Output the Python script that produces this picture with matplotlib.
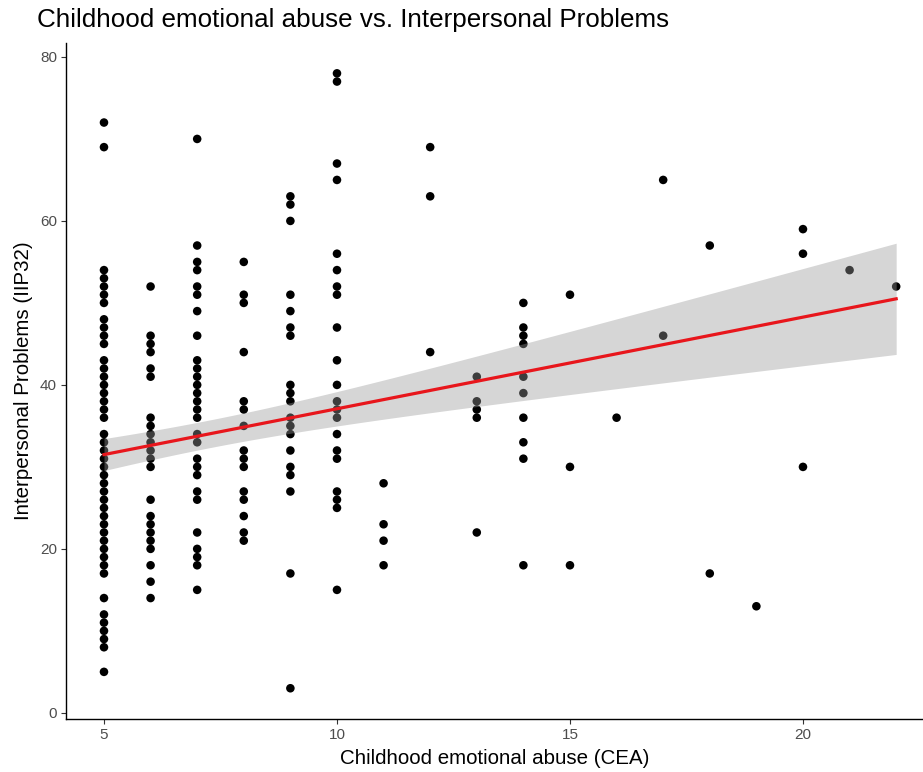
import numpy as np
import matplotlib.pyplot as plt

plt.rcParams['font.family'] = ['Liberation Sans', 'DejaVu Sans']

# IIP32 scores observed at each CEA level
iip_cea5 = [72, 69, 54, 53, 52, 51, 50, 48, 47, 46, 45, 43, 42, 41, 40, 39, 38, 37, 36,
            34, 33, 32, 31, 30, 29, 28, 27, 26, 25, 24, 23, 22, 21, 20, 19, 18, 17,
            14, 12, 11, 10, 9, 8, 5]
iip_cea6 = [52, 46, 45, 44, 42, 41, 36, 35, 34, 33, 32, 31, 30, 26, 24, 23, 22, 21, 20, 18, 16, 14]
iip_cea7 = [70, 57, 55, 54, 52, 51, 49, 46, 43, 42, 41, 40, 39, 38, 37, 36, 34, 33, 31, 30,
            29, 27, 26, 22, 20, 19, 18, 15]
iip_cea8 = [55, 51, 50, 44, 38, 37, 35, 32, 31, 30, 27, 26, 24, 22, 21]
iip_cea9 = [63, 62, 60, 51, 49, 47, 46, 40, 39, 38, 36, 35, 34, 32, 30, 29, 27, 17, 3]
iip_cea10 = [78, 77, 67, 65, 56, 54, 52, 51, 47, 43, 40, 38, 37, 36, 34, 32, 31, 27, 26, 25, 15]
iip_cea11 = [28, 23, 21, 18]
iip_cea12 = [69, 63, 44]
iip_cea13 = [41, 38, 37, 36, 22]
iip_cea14 = [50, 47, 46, 45, 41, 39, 36, 33, 31, 18]
iip_cea15 = [51, 30, 18]
iip_cea16 = [36]
iip_cea17 = [65, 46]
iip_cea18 = [57, 17]
iip_cea19 = [13]
iip_cea20 = [59, 56, 30]
iip_cea21 = [54]
iip_cea22 = [52]

cea_levels = list(range(5, 23))
iip_groups = [iip_cea5, iip_cea6, iip_cea7, iip_cea8, iip_cea9, iip_cea10, iip_cea11,
              iip_cea12, iip_cea13, iip_cea14, iip_cea15, iip_cea16, iip_cea17,
              iip_cea18, iip_cea19, iip_cea20, iip_cea21, iip_cea22]

# lm smooth: fitted values at the ends of the CEA range and 95% band
fit_x = [5, 22]
fit_y = [31.5, 50.5]
band_center_x = 7.2      # CEA where the band is narrowest
band_min_halfwidth = 1.69
band_spread = 0.197      # growth of squared half-width per squared CEA unit

x = np.concatenate([[lvl] * len(g) for lvl, g in zip(cea_levels, iip_groups)]).astype(float)
y = np.concatenate(iip_groups).astype(float)

slope = (fit_y[1] - fit_y[0]) / (fit_x[1] - fit_x[0])
x_fit = np.linspace(fit_x[0], fit_x[1], 200)
y_fit = fit_y[0] + slope * (x_fit - fit_x[0])
half = np.sqrt(band_min_halfwidth ** 2 + band_spread * (x_fit - band_center_x) ** 2)

fig = plt.figure(figsize=(9.23, 7.72), dpi=100)
ax = fig.add_axes([66 / 923, 53 / 772, 1 - 66 / 923, 676.4 / 772])

ax.scatter(x, y, s=38, color='black', edgecolor='none', zorder=2)
ax.fill_between(x_fit, y_fit - half, y_fit + half,
                color='#999999', alpha=0.4, linewidth=0, zorder=3)
ax.plot(x_fit, y_fit, color='#e8161c', linewidth=2.3, zorder=4)

ax.set_xlim(4.185, 4.185 + (923 - 66) / 46.6)
ax.set_ylim(-0.75, 81.75)
ax.set_xticks([5, 10, 15, 20])
ax.set_yticks([0, 20, 40, 60, 80])

for side in ['top', 'right']:
    ax.spines[side].set_visible(False)
for side in ['left', 'bottom']:
    ax.spines[side].set_linewidth(1.0)
    ax.spines[side].set_color('black')
ax.tick_params(axis='both', direction='out', length=3.5, width=0.8, color='#333333',
               labelsize=11, labelcolor='#4d4d4d', pad=3)

ax.set_xlabel("Childhood emotional abuse (CEA)", fontsize=14.8, labelpad=5)
ax.set_ylabel("Interpersonal Problems (IIP32)", fontsize=14.8, labelpad=5)
fig.text(37 / 923, 1 - 27 / 772, "Childhood emotional abuse vs. Interpersonal Problems",
         fontsize=18.7, ha='left', va='baseline')

plt.savefig('out.png', dpi=100)
